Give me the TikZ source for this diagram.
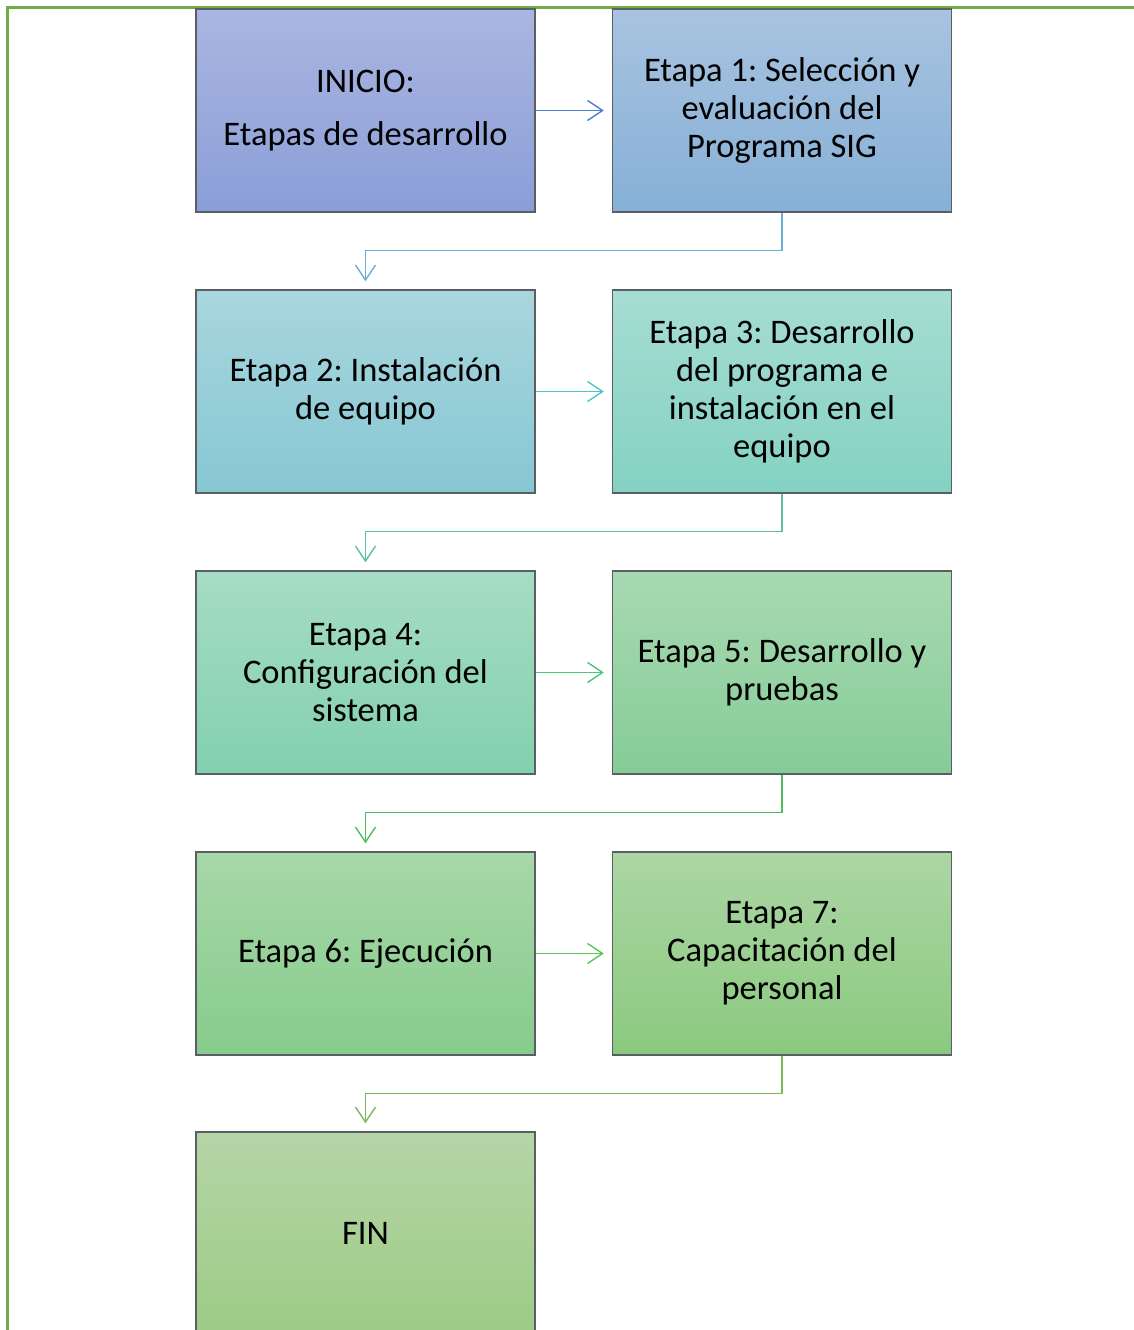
\documentclass[tikz,border=0pt]{standalone}
\usepackage{fontspec}
\setmainfont{Carlito}
\frenchspacing
\usetikzlibrary{arrows.meta}
\definecolor{frameg}{HTML}{70AD47}
\definecolor{boxedge}{HTML}{5A5F66}
\tikzset{
  stagebox/.style={draw=boxedge, line width=1.4pt, minimum width=339pt, minimum height=203pt,
    inner sep=0pt, align=center, font=\fontsize{34.5}{38}\selectfont, text=black},
  flow/.style={line width=1.4pt, -{Straight Barb[length=15pt,width=20pt,line width=1.4pt]}, shorten >=8pt},
}
\begin{document}
\begin{tikzpicture}[x=1pt,y=-1pt]
\useasboundingbox (0,0) rectangle (1134,1330);
\draw[frameg, line width=3pt] (7,1330) -- (7,8) -- (1134,8);

\node[stagebox, top color={rgb,255:red,170;green,182;blue,225}, bottom color={rgb,255:red,138;green,158;blue,215}] (b0) at (365.5,110.5) {INICIO:\\[15pt]Etapas de desarrollo};
\node[stagebox, top color={rgb,255:red,168;green,195;blue,224}, bottom color={rgb,255:red,134;green,176;blue,214}] (b1) at (782,110.5) {Etapa 1: Selección y\\evaluación del\\Programa SIG};
\node[stagebox, top color={rgb,255:red,169;green,214;blue,222}, bottom color={rgb,255:red,134;green,199;blue,211}] (b2) at (365.5,391.5) {Etapa 2: Instalación\\de equipo};
\node[stagebox, top color={rgb,255:red,166;green,221;blue,210}, bottom color={rgb,255:red,132;green,210;blue,195}] (b3) at (782,391.5) {Etapa 3: Desarrollo\\del programa e\\instalación en el\\equipo};
\node[stagebox, top color={rgb,255:red,166;green,220;blue,195}, bottom color={rgb,255:red,130;green,208;blue,174}] (b4) at (365.5,672.5) {Etapa 4:\\Configuración del\\sistema};
\node[stagebox, top color={rgb,255:red,168;green,217;blue,178}, bottom color={rgb,255:red,134;green,204;blue,151}] (b5) at (782,672.5) {Etapa 5: Desarrollo y\\pruebas};
\node[stagebox, top color={rgb,255:red,168;green,215;blue,168}, bottom color={rgb,255:red,134;green,204;blue,140}] (b6) at (365.5,953.5) {Etapa 6: Ejecución};
\node[stagebox, top color={rgb,255:red,171;green,214;blue,164}, bottom color={rgb,255:red,139;green,201;blue,127}] (b7) at (782,953.5) {Etapa 7:\\Capacitación del\\personal};
\node[stagebox, top color={rgb,255:red,181;green,213;blue,167}, bottom color={rgb,255:red,157;green,203;blue,133}] (b8) at (365.5,1233.5) {FIN};

\draw[flow, color={rgb,255:red,74;green,127;blue,208}] (b0.east) -- (b1.west);
\draw[flow, color={rgb,255:red,106;green,174;blue,214}] (b1.south) -- ++(0,38) -| (b2.north);
\draw[flow, color={rgb,255:red,77;green,195;blue,201}] (b2.east) -- (b3.west);
\draw[flow, color={rgb,255:red,91;green,191;blue,160}] (b3.south) -- ++(0,38) -| (b4.north);
\draw[flow, color={rgb,255:red,76;green,196;blue,122}] (b4.east) -- (b5.west);
\draw[flow, color={rgb,255:red,77;green,187;blue,92}] (b5.south) -- ++(0,38) -| (b6.north);
\draw[flow, color={rgb,255:red,92;green,196;blue,92}] (b6.east) -- (b7.west);
\draw[flow, color={rgb,255:red,122;green,184;blue,92}] (b7.south) -- ++(0,38) -| (b8.north);
\end{tikzpicture}
\end{document}
